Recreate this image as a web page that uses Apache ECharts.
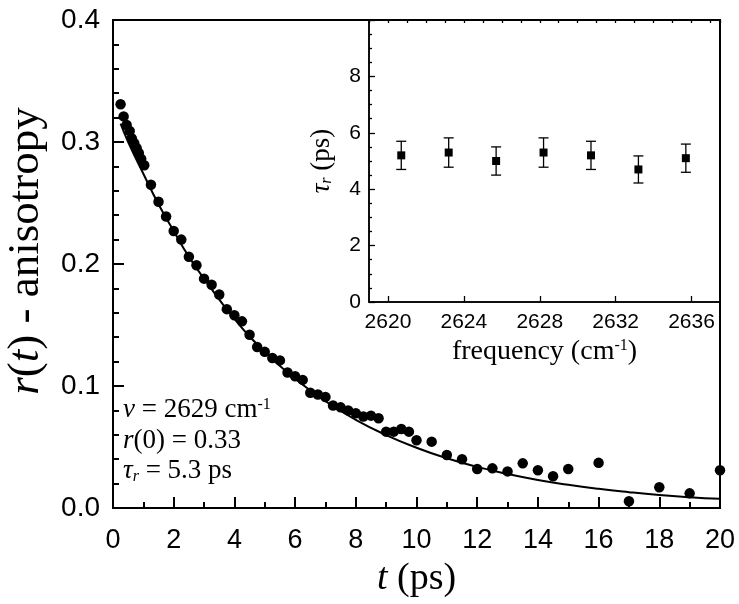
<!DOCTYPE html>
<html><head><meta charset="utf-8">
<script src="https://cdn.jsdelivr.net/npm/echarts@6/dist/echarts.min.js"></script>
<style>html,body{margin:0;padding:0;background:#fff}#c{width:739px;height:604px}</style>
</head><body><div id="c"></div>
<script>
// Main panel: anisotropy decay r(t)
const decayT = [0.25,0.35,0.45,0.55,0.62,0.7,0.78,0.85,0.93,1.03,1.25,1.5,1.75,2.0,2.25,2.5,2.75,3.0,3.25,3.5,3.75,4.0,4.25,4.5,4.75,5.0,5.25,5.5,5.75,6.0,6.25,6.5,6.75,7.0,7.25,7.5,7.75,8.0,8.25,8.5,8.75,9.0,9.25,9.5,9.75,10.0,10.5,11.0,11.5,12.0,12.5,13.0,13.5,14.0,14.5,15.0,16.0,17.0,18.0,19.0,20.0];
const decayR = [0.331,0.321,0.314,0.309,0.303,0.299,0.295,0.291,0.286,0.281,0.265,0.251,0.239,0.227,0.220,0.206,0.199,0.188,0.183,0.175,0.163,0.158,0.153,0.142,0.132,0.128,0.123,0.121,0.111,0.108,0.105,0.0945,0.093,0.091,0.084,0.0825,0.080,0.0776,0.075,0.0757,0.0735,0.0626,0.0626,0.0648,0.0626,0.0555,0.0544,0.0434,0.040,0.032,0.0325,0.030,0.0366,0.031,0.026,0.032,0.037,0.0055,0.017,0.012,0.031];
// Fit curve
const fitT = [0.25,0.5,1,1.5,2,2.5,3,4,5,6,7,8,9,10,11,12,13,14,15,16,17,18,19,20];
const fitR = [0.315,0.300,0.274,0.249,0.227,0.206,0.188,0.155,0.128,0.106,0.0875,0.0723,0.0598,0.0494,0.0408,0.0337,0.0279,0.0230,0.0190,0.0157,0.0130,0.0107,0.0089,0.0075];
// Inset: rotation time vs frequency
const freq = [2620.7,2623.2,2625.7,2628.2,2630.7,2633.2,2635.7];
const tau = [5.2,5.3,5.0,5.3,5.2,4.7,5.1];
const tauErr = [0.5,0.52,0.5,0.52,0.5,0.48,0.5];
const insetXLabels = [2620,2624,2628,2632,2636];

const SERIF = '"Liberation Serif","Times New Roman",serif';
const SANS = '"Liberation Sans",Arial,sans-serif';
const K = '#000';

const chart = echarts.init(document.getElementById('c'), null, {renderer:'canvas'});
chart.setOption({
  animation: false,
  backgroundColor: '#fff',
  grid: [
    {left:113, right:19, top:20, bottom:96, show:true, borderColor:K, borderWidth:2, backgroundColor:'transparent', containLabel:false, outerBoundsMode:'none'},
    {left:369, right:19, top:20, bottom:302, show:true, borderColor:K, borderWidth:1.5, backgroundColor:'transparent', containLabel:false, outerBoundsMode:'none'}
  ],
  xAxis: [
    {gridIndex:0, type:'value', min:0, max:20, interval:2,
     axisLine:{lineStyle:{color:K,width:2}},
     axisTick:{inside:true,length:11,lineStyle:{color:K,width:2}},
     minorTick:{show:true,splitNumber:2,length:6,lineStyle:{color:K,width:2}},
     splitLine:{show:false},
     axisLabel:{color:K,fontSize:27,fontFamily:SANS,margin:19},
     name:'{i|t} (ps)', nameLocation:'middle', nameGap:52,
     nameTextStyle:{color:K,fontFamily:SERIF,fontSize:38,rich:{i:{fontStyle:'italic',fontFamily:SERIF,fontSize:38,color:K}}}
    },
    {gridIndex:1, type:'value', min:2619, max:2637.5,
     axisLine:{lineStyle:{color:K,width:1.5}},
     axisTick:{inside:true,length:6,customValues:insetXLabels,lineStyle:{color:K,width:1.3}},
     axisLabel:{color:K,fontSize:21,fontFamily:SANS,margin:10,customValues:insetXLabels,formatter:v=>String(Math.round(v))},
     splitLine:{show:false},
     name:'frequency (cm{sup|-1})', nameLocation:'middle', nameGap:36,
     nameTextStyle:{color:K,fontFamily:SERIF,fontSize:28,rich:{sup:{fontFamily:SERIF,fontSize:16,color:K,verticalAlign:'top',lineHeight:16}}}
    },
    {gridIndex:1, type:'value', min:2619, max:2637.5, interval:1,
     axisLine:{show:false}, axisLabel:{show:false}, splitLine:{show:false},
     axisTick:{inside:true,length:3,lineStyle:{color:K,width:1.3}}
    }
  ],
  yAxis: [
    {gridIndex:0, type:'value', min:0, max:0.4, interval:0.1,
     axisLine:{lineStyle:{color:K,width:2}},
     axisTick:{inside:true,length:11,lineStyle:{color:K,width:2}},
     minorTick:{show:true,splitNumber:5,length:6,lineStyle:{color:K,width:2}},
     splitLine:{show:false},
     axisLabel:{color:K,fontSize:28,fontFamily:SANS,margin:13,formatter:v=>v.toFixed(1)},
     name:'{i|r}({i|t}) - anisotropy', nameLocation:'middle', nameGap:64,
     nameTextStyle:{color:K,fontFamily:SERIF,fontSize:45,padding:[0,0,0,26],rich:{i:{fontStyle:'italic',fontFamily:SERIF,fontSize:45,color:K}}}
    },
    {gridIndex:1, type:'value', min:0, max:10, interval:2,
     axisLine:{lineStyle:{color:K,width:1.5}},
     axisTick:{inside:true,length:6,lineStyle:{color:K,width:1.3}},
     minorTick:{show:true,splitNumber:4,length:3,lineStyle:{color:K,width:1.3}},
     splitLine:{show:false},
     axisLabel:{color:K,fontSize:21,fontFamily:SANS,margin:8,showMaxLabel:false},
     name:'{i|τ}{sub|r} (ps)', nameLocation:'middle', nameGap:34,
     nameTextStyle:{color:K,fontFamily:SERIF,fontSize:27,rich:{i:{fontStyle:'italic',fontFamily:SERIF,fontSize:27,color:K},sub:{fontStyle:'italic',fontFamily:SERIF,fontSize:16,color:K,verticalAlign:'bottom',lineHeight:16}}}
    }
  ],
  series: [
    {type:'line', xAxisIndex:0, yAxisIndex:0, data:fitT.map((t,i)=>[t,fitR[i]]), smooth:true, showSymbol:false, lineStyle:{color:K,width:2}, z:2},
    {type:'scatter', xAxisIndex:0, yAxisIndex:0, data:decayT.map((t,i)=>[t,decayR[i]]), symbol:'circle', symbolSize:10.5, itemStyle:{color:K,opacity:1}, z:3},
    {type:'custom', xAxisIndex:2, yAxisIndex:1, data:freq.map((f,i)=>[f,tau[i],tauErr[i]]), z:2,
     encode:{x:0,y:1},
     renderItem:function(params, api){
       const x = api.value(0), y = api.value(1), e = api.value(2);
       const top = api.coord([x, y+e]), bot = api.coord([x, y-e]);
       const hw = 5, st = {stroke:K, lineWidth:1.3};
       return {type:'group', children:[
         {type:'line', shape:{x1:top[0],y1:top[1],x2:bot[0],y2:bot[1]}, style:st},
         {type:'line', shape:{x1:top[0]-hw,y1:top[1],x2:top[0]+hw,y2:top[1]}, style:st},
         {type:'line', shape:{x1:bot[0]-hw,y1:bot[1],x2:bot[0]+hw,y2:bot[1]}, style:st}
       ]};
     }},
    {type:'scatter', xAxisIndex:2, yAxisIndex:1, data:freq.map((f,i)=>[f,tau[i]]), symbol:'rect', symbolSize:8, itemStyle:{color:K,opacity:1}, z:3}
  ],
  graphic: [
    {type:'text', x:123, y:410, style:{text:'{i|ν} = 2629 cm{sup|-1}', verticalAlign:'middle', align:'left', fontFamily:SERIF, fontSize:27, fill:K,
      rich:{i:{fontStyle:'italic',fontFamily:SERIF,fontSize:27,fill:K}, sup:{fontFamily:SERIF,fontSize:16,fill:K,verticalAlign:'top',lineHeight:16}}}},
    {type:'text', x:123, y:441, style:{text:'{i|r}(0) = 0.33', verticalAlign:'middle', align:'left', fontFamily:SERIF, fontSize:27, fill:K,
      rich:{i:{fontStyle:'italic',fontFamily:SERIF,fontSize:27,fill:K}}}},
    {type:'text', x:123, y:471, style:{text:'{i|τ}{sub|r} = 5.3 ps', verticalAlign:'middle', align:'left', fontFamily:SERIF, fontSize:27, fill:K,
      rich:{i:{fontStyle:'italic',fontFamily:SERIF,fontSize:27,fill:K}, sub:{fontStyle:'italic',fontFamily:SERIF,fontSize:16,fill:K,verticalAlign:'bottom',lineHeight:16}}}}
  ]
});
</script>
</body></html>
